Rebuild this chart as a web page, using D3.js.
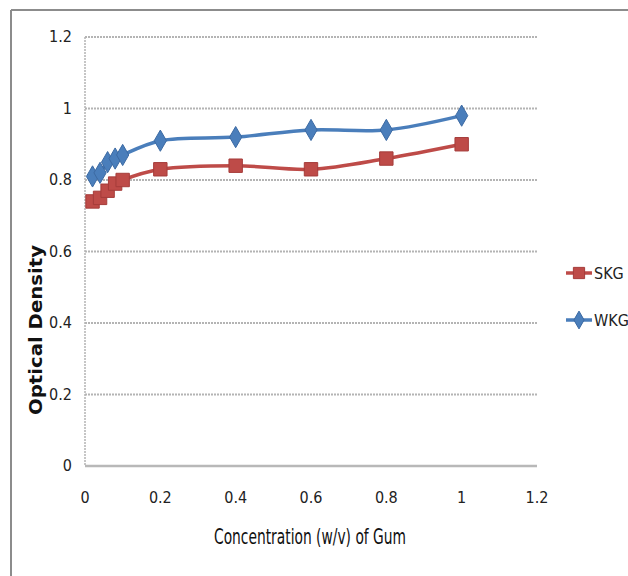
<!DOCTYPE html>
<html>
<head>
<meta charset="utf-8">
<script src="https://cdn.jsdelivr.net/npm/d3@7"></script>
<style>
  body { margin: 0; background: #fff; }
  text { font-family: "DejaVu Sans Condensed", "Liberation Sans Narrow", sans-serif; font-stretch: condensed; }
</style>
</head>
<body>
<script>
var w = 628;
var h = 576;

// data
var conc = [0.02, 0.04, 0.06, 0.08, 0.1, 0.2, 0.4, 0.6, 0.8, 1];
var skg = [0.74, 0.75, 0.77, 0.79, 0.80, 0.83, 0.84, 0.83, 0.86, 0.90];
var wkg = [0.81, 0.82, 0.85, 0.86, 0.87, 0.91, 0.92, 0.94, 0.94, 0.98];
var xTicks = [0, 0.2, 0.4, 0.6, 0.8, 1, 1.2];
var yTicks = [0, 0.2, 0.4, 0.6, 0.8, 1, 1.2];

var svg = d3.select("body").append("svg")
          .attr("width", w)
          .attr("height", h);

// frame round the picture (top and left only show)
svg.append("line").attr("x1", 11).attr("y1", 10).attr("x2", w).attr("y2", 10)
   .attr("stroke", "#8c8c8c").attr("stroke-width", 2);
svg.append("line").attr("x1", 11).attr("y1", 10).attr("x2", 11).attr("y2", h)
   .attr("stroke", "#8c8c8c").attr("stroke-width", 2);

var x = d3.scaleLinear().domain([0, 1.2]).range([85, 537]);
var y = d3.scaleLinear().domain([0, 1.2]).range([466, 37]);

// gridlines
svg.selectAll(".grid")
   .data(yTicks.filter(function(d) { return d > 0; }))
   .enter().append("line")
   .attr("x1", x(0)).attr("x2", x(1.2))
   .attr("y1", function(d) { return y(d); })
   .attr("y2", function(d) { return y(d); })
   .attr("stroke", "#b4b4b4")
   .attr("stroke-width", 2)
   .attr("stroke-dasharray", "2,1");

// left axis (dashed) and bottom axis
svg.append("line").attr("x1", x(0)).attr("x2", x(0)).attr("y1", y(1.2)).attr("y2", y(0))
   .attr("stroke", "#b4b4b4").attr("stroke-width", 1.5).attr("stroke-dasharray", "2,1");
svg.append("line").attr("x1", x(0)).attr("x2", x(1.2)).attr("y1", y(0)).attr("y2", y(0))
   .attr("stroke", "#b8b8b8").attr("stroke-width", 2.5);

// tick labels
svg.selectAll(".ylab").data(yTicks).enter().append("text")
   .attr("x", 72).attr("y", function(d) { return y(d) + 5; })
   .attr("text-anchor", "end")
   .attr("font-size", 16).attr("fill", "#222")
   .text(function(d) { return d3.format("")(d); });

svg.selectAll(".xlab").data(xTicks).enter().append("text")
   .attr("x", function(d) { return x(d); }).attr("y", 503)
   .attr("text-anchor", "middle")
   .attr("font-size", 16).attr("fill", "#222")
   .text(function(d) { return d3.format("")(d); });

// axis titles
svg.append("text")
   .attr("x", 310).attr("y", 544)
   .attr("text-anchor", "middle")
   .attr("font-size", 21).attr("fill", "#111")
   .attr("textLength", 192).attr("lengthAdjust", "spacingAndGlyphs")
   .text("Concentration (w/v) of Gum");

svg.append("text")
   .attr("transform", "translate(42,330) rotate(-90)")
   .attr("text-anchor", "middle")
   .style("font-family", "'DejaVu Sans', sans-serif")
   .style("font-stretch", "normal")
   .attr("font-size", 17).attr("font-weight", "bold").attr("fill", "#111")
   .attr("textLength", 170).attr("lengthAdjust", "spacingAndGlyphs")
   .text("Optical Density");

var line = d3.line()
   .x(function(d) { return x(d[0]); })
   .y(function(d) { return y(d[1]); })
   .curve(d3.curveCatmullRom.alpha(0.5));

var series = [
  { name: "SKG", values: skg, color: "#be4b48", edge: "#a53c3a", shape: d3.symbolSquare, size: 180 },
  { name: "WKG", values: wkg, color: "#4a7ebb", edge: "#3c6aa3", shape: d3.symbolDiamond, size: 130 }
];

series.forEach(function(s) {
  var pts = conc.map(function(c, i) { return [c, s.values[i]]; });
  svg.append("path")
     .attr("d", line(pts))
     .attr("fill", "none")
     .attr("stroke", s.color)
     .attr("stroke-width", 3.5);
  svg.selectAll(".pt-" + s.name).data(pts).enter().append("path")
     .attr("d", d3.symbol().type(s.shape).size(s.size))
     .attr("transform", function(d) { return "translate(" + x(d[0]) + "," + y(d[1]) + ")"; })
     .attr("fill", s.color)
     .attr("stroke", s.edge)
     .attr("stroke-width", 1);
});

// legend
series.forEach(function(s, i) {
  var ly = 273 + i * 47;
  svg.append("line").attr("x1", 566).attr("x2", 592).attr("y1", ly).attr("y2", ly)
     .attr("stroke", s.color).attr("stroke-width", 3.5);
  svg.append("path")
     .attr("d", d3.symbol().type(s.shape).size(s.size * 0.7))
     .attr("transform", "translate(579," + ly + ")")
     .attr("fill", s.color).attr("stroke", s.edge);
  svg.append("text")
     .attr("x", 594).attr("y", ly + 6)
     .attr("font-size", 16).attr("fill", "#222")
     .text(s.name);
});
</script>
</body>
</html>
